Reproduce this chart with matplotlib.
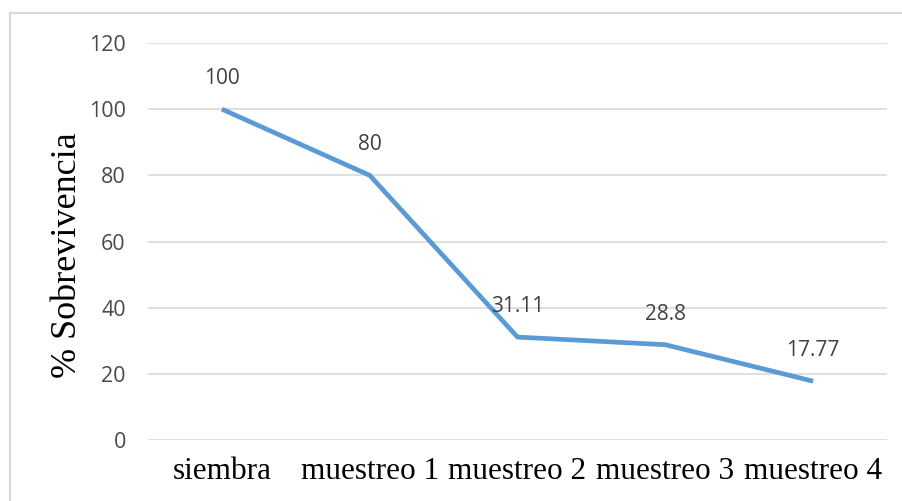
import matplotlib
matplotlib.use("Agg")
import matplotlib.pyplot as plt
from matplotlib.lines import Line2D

# Survival data
stages = ["siembra", "muestreo 1", "muestreo 2", "muestreo 3", "muestreo 4"]
survival = [100, 80, 31.11, 28.8, 17.77]
value_labels = ["100", "80", "31.11", "28.8", "17.77"]
yticks = [0, 20, 40, 60, 80, 100, 120]

W, H = 902, 501
fig = plt.figure(figsize=(W / 100, H / 100), dpi=100)
fig.patch.set_facecolor("white")

ax = fig.add_axes([148 / W, 1 - 440 / H, (887 - 148) / W, (440 - 43) / H])
x = list(range(len(stages)))
ax.plot(x, survival, color="#5B9BD5", linewidth=3.4, solid_capstyle="butt",
        solid_joinstyle="miter", clip_on=False, zorder=3)

for xi, yi, lab in zip(x, survival, value_labels):
    ax.annotate(lab, (xi, yi), xytext=(0, 22), textcoords="offset points",
                ha="center", va="center", fontsize=15, color="#404040",
                family="Open Sans", zorder=4)

ax.set_xlim(-0.5, len(stages) - 0.5)
ax.set_ylim(0, 120)
ax.set_yticks(yticks)
ax.set_yticklabels([str(t) for t in yticks], family="Open Sans", fontsize=15.5,
                   color="#4A4A4A")
ax.set_xticks(x)
ax.set_xticklabels(stages, family="Liberation Serif", fontsize=22.5, color="black")
ax.tick_params(axis="both", length=0)
ax.tick_params(axis="y", pad=16)
ax.tick_params(axis="x", pad=12)
ax.grid(axis="y", color="#D9D9D9", linewidth=1.2)
ax.set_axisbelow(True)
for s in ax.spines.values():
    s.set_visible(False)

fig.text(67 / W, 1 - 255 / H, "% Sobrevivencia", rotation=90, ha="center",
         va="center", family="Liberation Serif", fontsize=26, color="black")

# chart area frame
fig.add_artist(Line2D([10 / W, 1.0], [1 - 13 / H, 1 - 13 / H], color="#D9D9D9",
                      linewidth=1.5, transform=fig.transFigure))
fig.add_artist(Line2D([10 / W, 10 / W], [0, 1 - 13 / H], color="#D9D9D9",
                      linewidth=1.5, transform=fig.transFigure))

fig.savefig("out.png", dpi=100, facecolor="white")
